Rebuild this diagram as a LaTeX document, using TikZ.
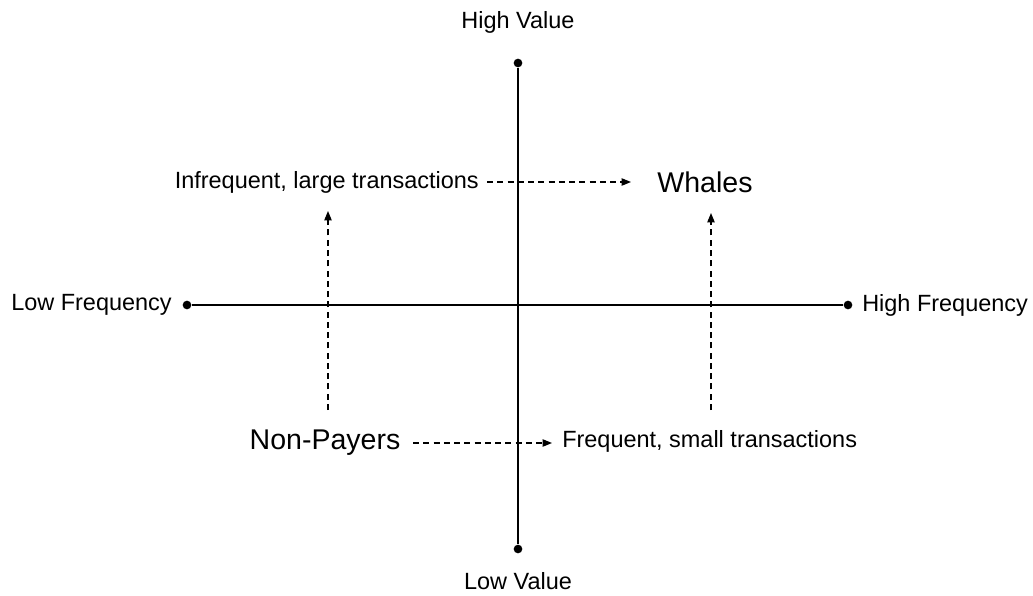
\documentclass[tikz,border=0pt]{standalone}
\usepackage{fontspec}
\setmainfont{Liberation Sans}
\usetikzlibrary{arrows.meta}
\begin{document}
\begin{tikzpicture}[x=0.75pt,y=-0.75pt,
  axis/.style={line width=1.4pt,black},
  dotend/.style={circle,fill=black,inner sep=0pt,minimum size=6.5pt},
  lbl/.style={font=\fontsize{17.6pt}{20pt}\selectfont,inner sep=0pt},
  biglbl/.style={font=\fontsize{21.4pt}{24pt}\selectfont,inner sep=0pt},
  darr/.style={line width=0.9pt,dash pattern=on 4.5pt off 3.2pt,-{Triangle[length=7pt,width=5.5pt]}}]
\useasboundingbox (0,0) rectangle (1033,596);
% axes end points
\node[dotend] (vt) at (518,63) {};
\node[dotend] (vb) at (518,549) {};
\node[dotend] (hl) at (187,305) {};
\node[dotend] (hr) at (848,305) {};
\draw[axis] (vt) -- (vb);
\draw[axis] (hl) -- (hr);
% axis labels
\node[lbl] (hv) at (518,22) {High Value};
\node[lbl] (lv) at (518,581) {Low Value};
\node[lbl,anchor=east] (lf) at (172,305) {Low Frequency};
\node[lbl,anchor=west] (hf) at (862,305) {High Frequency};
% quadrant labels
\node[lbl,anchor=east] (ilt) at (479,182) {Infrequent, large transactions};
\node[biglbl] (wh) at (705,182) {Whales};
\node[biglbl] (np) at (325,443) {Non-Payers};
\node[lbl,anchor=west] (fst) at (562,441) {Frequent, small transactions};
% helper coordinates for dashed arrows
\coordinate (a1s) at (487,182);
\coordinate (a1e) at (631,182);
\coordinate (a2s) at (413,443);
\coordinate (a2e) at (552,443);
\coordinate (a3s) at (328,410);
\coordinate (a3e) at (328,211);
\coordinate (a4s) at (711,410);
\coordinate (a4e) at (711,213);
\draw[darr] (a1s) -- (a1e);
\draw[darr] (a2s) -- (a2e);
\draw[darr] (a3s) -- (a3e);
\draw[darr] (a4s) -- (a4e);
\end{tikzpicture}
\end{document}
